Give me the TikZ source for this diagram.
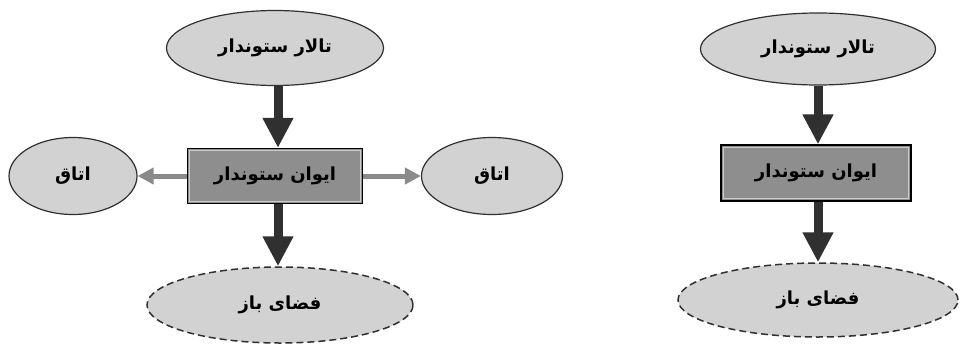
\documentclass[tikz,border=0pt]{standalone}
\usepackage{fontspec}
\usetikzlibrary{shapes.geometric,arrows.meta,calc}
\newfontfamily\arabicfont[Script=Arabic]{DejaVu Sans}
\TeXXeTstate=1
\definecolor{ellfill}{HTML}{D2D2D2}
\definecolor{rectfill}{HTML}{8E8E8E}
\definecolor{darkarrow}{HTML}{303030}
\definecolor{sidearrow}{HTML}{8A8A8A}
\tikzset{
  x=1pt, y=-1pt,
  ell/.style={ellipse, draw=darkarrow, line width=1.2pt, fill=ellfill, inner sep=0pt,
    font=\arabicfont\bfseries\fontsize{18}{20}\selectfont},
  dashell/.style={ell, line width=1.5pt, dashed, dash pattern=on 7pt off 4pt},
  rectbox/.style={rectangle, draw=black, line width=1.3pt, fill=rectfill, inner sep=0pt,
    font=\arabicfont\bfseries\fontsize{18}{20}\selectfont},
  bigarrow/.style={draw=darkarrow, line width=9pt, -{Triangle[width=29pt,length=30pt]}},
  smallarrow/.style={draw=sidearrow, line width=5pt, -{Triangle[width=16pt,length=16pt]}},
}
\newcommand{\rtl}[1]{\beginR #1\endR}
\begin{document}
\begin{tikzpicture}
\useasboundingbox (0,0) rectangle (960,345);
% left diagram
\node[ell, minimum width=217pt, minimum height=75pt] (t1) at (275,48) {\rtl{تالار ستوندار}};
\node[rectbox, minimum width=175pt, minimum height=55pt] (r1) at (275,176) {\rtl{ایوان ستوندار}};
\draw[white!80!black, line width=1pt] ($(r1.north west)+(3,3)$) rectangle ($(r1.south east)+(-3,-3)$);
\node[ell, minimum width=128pt, minimum height=77pt] (l1) at (73,176) {\rtl{اتاق}};
\node[ell, minimum width=141pt, minimum height=77pt] (l2) at (492,176) {\rtl{اتاق}};
\node[dashell, minimum width=266pt, minimum height=76pt] (b1) at (280,305) {\rtl{فضای باز}};
\draw[bigarrow] (t1.south -| 278,0) -- (r1.north -| 278,0);
\draw[bigarrow] (r1.south -| 278,0) -- (b1.north -| 278,0);
\draw[smallarrow] (r1.west) -- (l1.east);
\draw[smallarrow] (r1.east) -- (l2.west);
% right diagram
\node[ell, minimum width=235pt, minimum height=72pt] (t2) at (818,49) {\rtl{تالار ستوندار}};
\node[rectbox, minimum width=190pt, minimum height=56pt] (r2) at (816,173) {\rtl{ایوان ستوندار}};
\draw[white!80!black, line width=1pt] ($(r2.north west)+(3,3)$) rectangle ($(r2.south east)+(-3,-3)$);
\node[dashell, minimum width=280pt, minimum height=74pt] (b2) at (818,300) {\rtl{فضای باز}};
\draw[bigarrow] (t2.south -| 818,0) -- (r2.north -| 818,0);
\draw[bigarrow] (r2.south -| 818,0) -- (b2.north -| 818,0);
\end{tikzpicture}
\end{document}
